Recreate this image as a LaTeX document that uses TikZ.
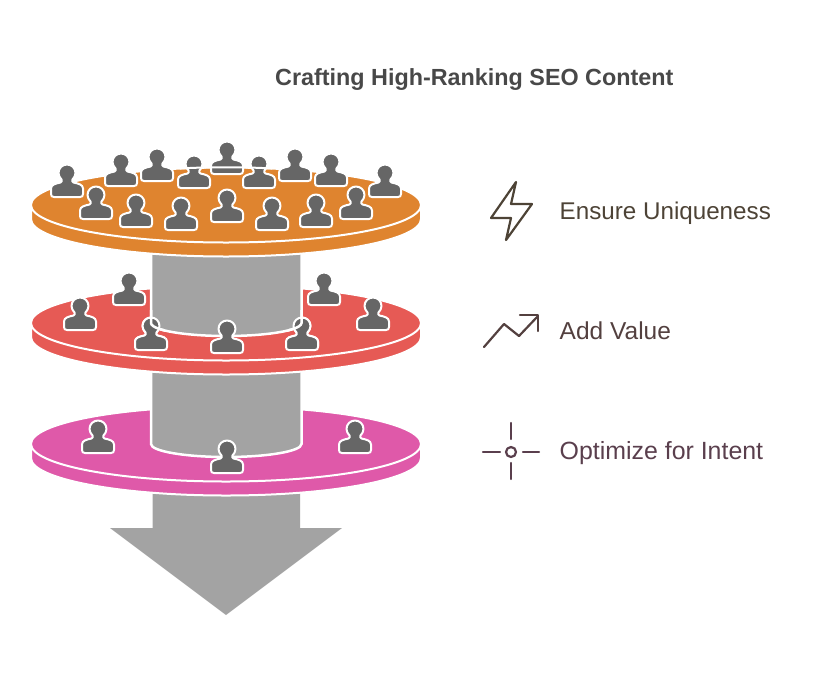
\documentclass[tikz,border=0pt]{standalone}
\usepackage{fontspec}
\setmainfont{Liberation Sans}
\definecolor{cOrange}{HTML}{DF842F}
\definecolor{cRed}{HTML}{E65A55}
\definecolor{cPink}{HTML}{DF59A9}
\definecolor{cCol}{HTML}{A3A3A3}
\definecolor{cMan}{HTML}{666666}
\definecolor{cTitle}{HTML}{484848}
\definecolor{cA}{HTML}{4D4336}
\definecolor{cB}{HTML}{53403F}
\definecolor{cC}{HTML}{5A3F4D}
\tikzset{
  x=1pt,y=-1pt,
  manshape/.style={fill=cMan,draw=white,line width=2pt,line join=round},
  diskside/.style={draw=white,line width=2pt},
  disktop/.style={draw=white,line width=2pt},
  colshape/.style={fill=cCol,draw=white,line width=2.5pt},
  iconline/.style={line width=2.2pt,line cap=round,line join=round},
  title/.style={anchor=base west,inner sep=0pt,font=\fontsize{23.35}{26}\selectfont\bfseries,text=cTitle},
  label/.style={anchor=base west,inner sep=0pt,font=\fontsize{24.2}{26}\selectfont},
  man/.pic={
    \path[manshape] (-16,-5) -- (-16,-10.5) .. controls (-16,-14.5) and (-11,-15.5) .. (-6.5,-16.5)
      .. controls (-5,-17) and (-5,-18.5) .. (-5.5,-19.5)
      .. controls (-7,-21) and (-8.5,-23.5) .. (-8.5,-26)
      .. controls (-8.5,-31) and (-4.5,-34.5) .. (0,-34.5)
      .. controls (4.5,-34.5) and (8.5,-31) .. (8.5,-26)
      .. controls (8.5,-23.5) and (7,-21) .. (5.5,-19.5)
      .. controls (5,-18.5) and (5,-17) .. (6.5,-16.5)
      .. controls (11,-15.5) and (16,-14.5) .. (16,-10.5)
      -- (16,-5) .. controls (16,-3) and (15,-2) .. (13,-2) -- (-13,-2) .. controls (-15,-2) and (-16,-3) .. (-16,-5) -- cycle;
  }
}
\newcommand{\disk}[2]{%
  \path[fill=#2,diskside] (31,#1) -- (31,#1+14) arc[start angle=180,end angle=0,x radius=195,y radius=37.5] -- (421,#1) -- cycle;
  \path[fill=#2,disktop] (226,#1) ellipse[x radius=195,y radius=37.5];
}
\newcommand{\column}[2]{%
  \path[colshape] (151,#1) -- (151,#2) arc[start angle=180,end angle=0,x radius=75.25,y radius=13] -- (301.5,#1) -- cycle;
}
\begin{document}
\begin{tikzpicture}
\useasboundingbox (0,0) rectangle (813,678);
% arrow
\fill[cCol] (152.5,490) -- (152.5,528) -- (110,528) -- (226,615) -- (342,528) -- (300,528) -- (300,490) -- cycle;
% pink layer
\disk{444}{cPink}
\column{370}{444}
\foreach \x/\y in {98/455,355/455,227/475} \pic at (\x,\y) {man};
% red layer
\disk{323}{cRed}
\foreach \x/\y in {129/307,324/307,80/332,373/332,151/352,302/352} \pic at (\x,\y) {man};
\column{250}{323}
\begin{scope}
  \clip (134,310) rectangle (165,345);
  \pic at (151,352) {man};
  \path[draw=white,line width=2.5pt] (151,310) -- (151,323) arc[start angle=180,end angle=120,x radius=75.25,y radius=13];
\end{scope}
\begin{scope}
  \clip (288,310) rectangle (319,345);
  \pic at (302,352) {man};
  \path[draw=white,line width=2.5pt] (301.5,310) -- (301.5,323) arc[start angle=0,end angle=60,x radius=75.25,y radius=13];
\end{scope}
\pic at (227,355) {man};
% orange layer
\disk{205}{cOrange}
\foreach \x/\y in {67/199,121/188,157/183,194/190,227/176,259/190,295/183,331/188,385/199} \pic at (\x,\y) {man};
\draw[white,line width=2pt] (180,168.5) .. controls (195,167.6) and (210,167.3) .. (226,167.3) .. controls (242,167.3) and (257,167.6) .. (272,168.5);
\foreach \x/\y in {96/221,136/229,181/232,227/224,272/232,316/229,356/221} \pic at (\x,\y) {man};
% title and labels
\node[title] (t) at (275,85) {Crafting High-Ranking SEO Content};
\node[label,text=cA] (l1) at (559.5,219.5) {Ensure Uniqueness};
\node[label,text=cB,font=\fontsize{24.5}{26}\selectfont] (l2) at (559.5,339.5) {Add Value};
\node[label,text=cC,font=\fontsize{24.9}{26}\selectfont] (l3) at (559.5,459.5) {Optimize for Intent};
% icons
\draw[iconline,cA] (516,182) -- (491,218) -- (511,218) -- (506,240) -- (532,204) -- (511,204) -- cycle;
\draw[iconline,cB] (484,347) -- (504,324) -- (519,336) -- (538,316);
\draw[iconline,cB] (520,315) -- (538,315) -- (538,331);
\draw[iconline,cC] (511,452) circle[radius=5];
\draw[iconline,cC] (511,423) -- (511,439);
\draw[iconline,cC] (511,463) -- (511,479);
\draw[iconline,cC] (483,452) -- (500,452);
\draw[iconline,cC] (523,452) -- (539,452);
\end{tikzpicture}
\end{document}
